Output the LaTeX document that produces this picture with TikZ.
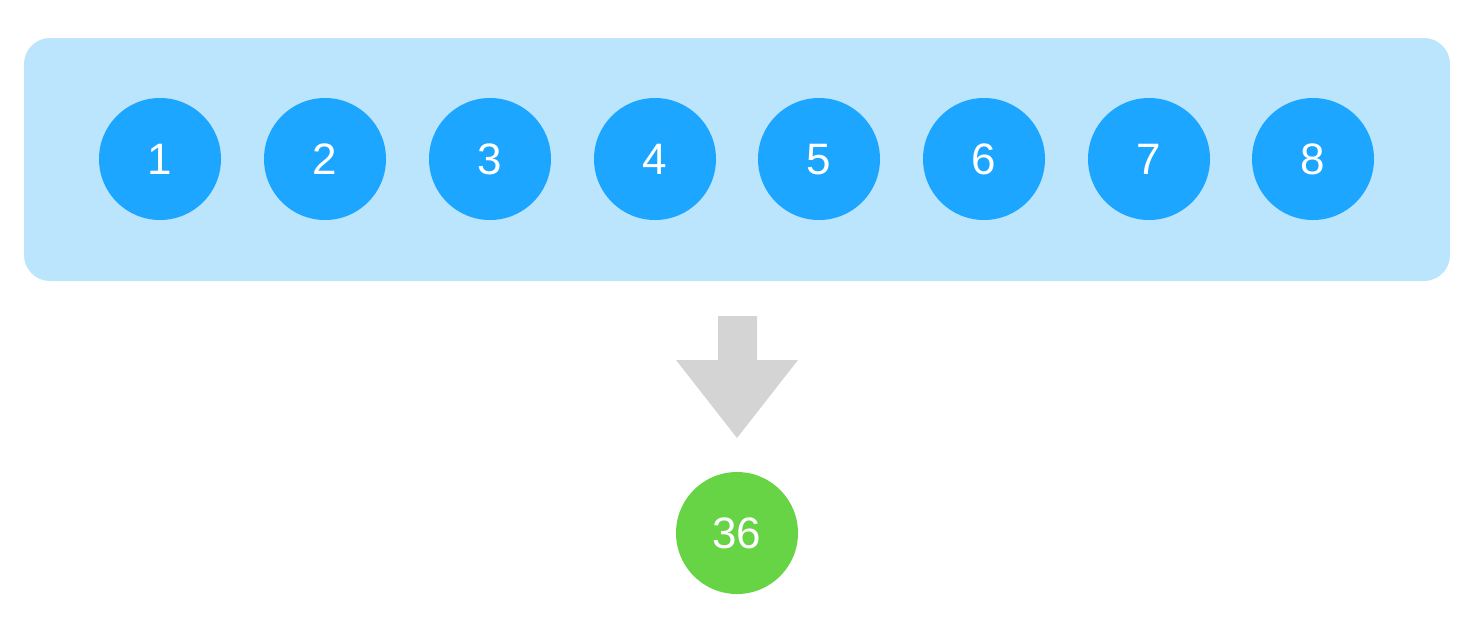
\documentclass[tikz,border=0pt]{standalone}
\usepackage{fontspec}
\setmainfont{Liberation Sans}
\definecolor{panel}{HTML}{BBE4FD}
\definecolor{ball}{HTML}{1DA6FF}
\definecolor{res}{HTML}{66D444}
\definecolor{arrowgray}{HTML}{D4D4D4}
\tikzset{
  numtext/.style={text=white, text depth=0pt, font=\fontsize{22}{24}\selectfont},
  ballnode/.style={circle, fill=ball, minimum size=61pt, inner sep=0pt, numtext},
  resnode/.style={circle, fill=res, minimum size=61pt, inner sep=0pt, numtext},
}
\begin{document}
\begin{tikzpicture}[x=0.5pt,y=-0.5pt]
\useasboundingbox (0,0) rectangle (1474,634);
\fill[panel, rounded corners=13pt] (24,38) rectangle (1450,281);
\foreach \i/\x in {1/160,2/325,3/490,4/655,5/819,6/984,7/1149,8/1313}{
  \node[ballnode] (b\i) at (\x,159) {\i};
}
\fill[arrowgray] (718,316) -- (757,316) -- (757,360) -- (798,360) -- (737,438) -- (676,360) -- (718,360) -- cycle;
\node[resnode] (r) at (737,533) {36};
\end{tikzpicture}
\end{document}
